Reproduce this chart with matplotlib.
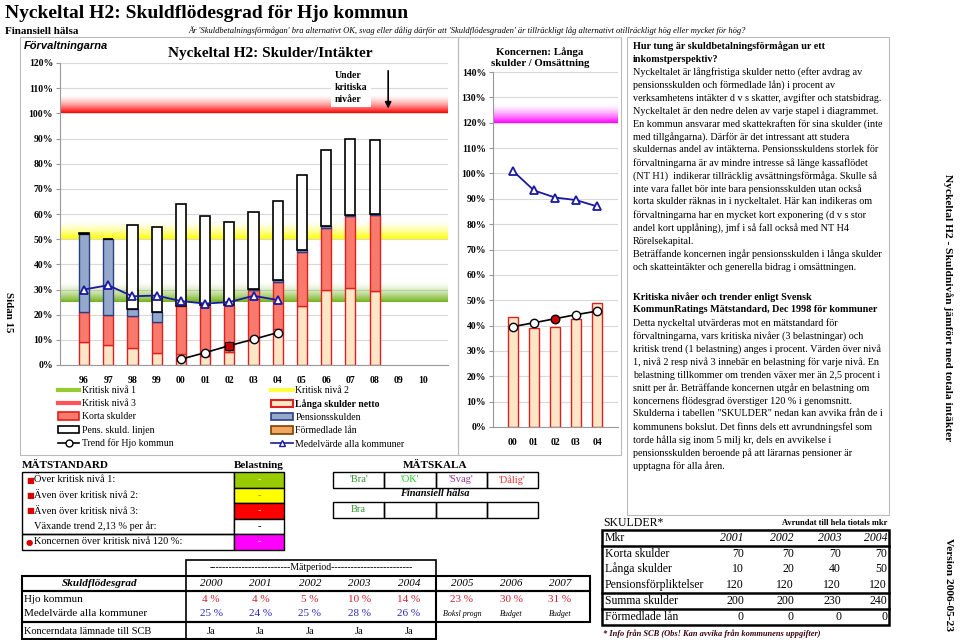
import numpy as np
import matplotlib.pyplot as plt
from matplotlib.patches import Rectangle, Patch
from matplotlib.lines import Line2D

plt.rcParams['font.family'] = ['Liberation Serif', 'DejaVu Serif']

W, H = 960, 640

# === DATA: main chart (Förvaltningarna) ===
years = ['96', '97', '98', '99', '00', '01', '02', '03', '04', '05', '06', '07', '08', '09', '10']
langa = [9.0, 8.0, 6.6, 4.6, 4.4, 3.6, 5.2, 10.0, 14.3, 23.4, 29.7, 30.7, 29.5, 0, 0]
korta = [12.1, 11.9, 13.0, 12.4, 19.0, 20.4, 18.6, 19.7, 18.7, 21.6, 24.9, 28.4, 30.0, 0, 0]
pension = [31.1, 30.0, 2.6, 4.1, 0, 0, 0, 0.6, 0.6, 0.6, 0.6, 0.6, 0.6, 0, 0]
formedlade = [0] * 15
pens_linje = [0.3, 0.3, 33.3, 33.6, 40.5, 35.2, 33.0, 30.6, 31.6, 29.8, 30.3, 30.0, 29.2, 0, 0]
medel_years = ['96', '97', '98', '99', '00', '01', '02', '03', '04']
medel = [30.0, 31.7, 27.3, 27.6, 25.4, 24.4, 25.0, 27.5, 25.8]
trend_years = ['00', '01', '02', '03', '04']
trend = [2.3, 4.9, 7.7, 10.2, 12.9]

# === DATA: koncernen ===
k_years = ['00', '01', '02', '03', '04']
k_langa = [43.2, 39.1, 39.5, 42.5, 49.0]
k_medel = [101.0, 93.3, 90.5, 89.5, 87.0]
k_trend = [39.6, 41.1, 42.7, 44.3, 45.7]

# === DATA: tables ===
std_labels = ['Över kritisk nivå 1:', 'Även över kritisk nivå 2:', 'Även över kritisk nivå 3:',
              'Växande trend 2,13 % per år:', 'Koncernen över kritisk nivå 120 %:']
std_marks = ['■', '■', '■', '', '●']
std_colors = ['#99cc00', '#ffff00', '#ff0000', '#ffffff', '#ff00ff']
skala = ["'Bra'", "'OK'", "'Svag'", "'Dålig'"]
skala_colors = ['#339933', '#22cc22', '#993399', '#ee3333']
halsa = ['Bra', '', '', '']

period_years = ['2000', '2001', '2002', '2003', '2004', '2005', '2006', '2007']
hjo_vals = ['4 %', '4 %', '5 %', '10 %', '14 %', '23 %', '30 %', '31 %']
medel_vals = ['25 %', '24 %', '25 %', '28 %', '26 %']
extra_notes = ['Boksl progn', 'Budget', 'Budget']
koncern_vals = ['Ja', 'Ja', 'Ja', 'Ja', 'Ja']

skuld_years = ['2001', '2002', '2003', '2004']
skuld_rows = ['Korta skulder', 'Långa skulder', 'Pensionsförpliktelser', 'Summa skulder', 'Förmedlade lån']
skuld_vals = [[70, 70, 70, 70], [10, 20, 40, 50], [120, 120, 120, 120], [200, 200, 230, 240], [0, 0, 0, 0]]

text1 = [
    "Nyckeltalet är långfristiga skulder netto (efter avdrag av",
    "pensionsskulden och förmedlade lån) i procent av",
    "verksamhetens intäkter d v s skatter, avgifter och statsbidrag.",
    "Nyckeltalet är den nedre delen av varje stapel i diagrammet.",
    "En kommun ansvarar med skattekraften för sina skulder (inte",
    "med tillgångarna). Därför är det intressant att studera",
    "skuldernas andel av intäkterna. Pensionsskuldens storlek för",
    "förvaltningarna är av mindre intresse så länge kassaflödet",
    "(NT H1)  indikerar tillräcklig avsättningsförmåga. Skulle så",
    "inte vara fallet bör inte bara pensionsskulden utan också",
    "korta skulder räknas in i nyckeltalet. Här kan indikeras om",
    "förvaltningarna har en mycket kort exponering (d v s stor",
    "andel kort upplåning), jmf i så fall också med NT H4",
    "Rörelsekapital.",
    "Beträffande koncernen ingår pensionsskulden i långa skulder",
    "och skatteintäkter och generella bidrag i omsättningen.",
]
text2 = [
    "Detta nyckeltal utvärderas mot en mätstandard för",
    "förvaltningarna, vars kritiska nivåer (3 belastningar) och",
    "kritisk trend (1 belastning) anges i procent. Värden över nivå",
    "1, nivå 2 resp nivå 3 innebär en belastning för varje nivå. En",
    "belastning tillkommer om trenden växer mer än 2,5 procent i",
    "snitt per år. Beträffande koncernen utgår en belastning om",
    "koncernens flödesgrad överstiger 120 % i genomsnitt.",
    "Skulderna i tabellen \"SKULDER\" nedan kan avvika från de i",
    "kommunens bokslut. Det finns dels ett avrundningsfel som",
    "torde hålla sig inom 5 milj kr, dels en avvikelse i",
    "pensionsskulden beroende på att lärarnas pensioner är",
    "upptagna för alla åren.",
]

# colours
PEACH = '#fde6c6'
SALMON = '#f77a6c'
BLUEGRAY = '#95a9cc'
ORANGE = '#f0a860'
REDEDGE = '#e02020'
NAVY = '#1a1aa0'

fig = plt.figure(figsize=(9.6, 6.4), dpi=100)


def fx(x):
    return x / W


def fy(y):
    return 1 - y / H


def txt(x, y, s, **kw):
    kw.setdefault('va', 'center')
    kw.setdefault('fontsize', 7.5)
    fig.text(fx(x), fy(y), s, **kw)


def rect(x0, y0, x1, y1, fc='none', ec='black', lw=1.0):
    fig.add_artist(Rectangle((fx(x0), fy(y1)), (x1 - x0) / W, (y1 - y0) / H,
                             transform=fig.transFigure, fc=fc, ec=ec, lw=lw))


def hline(x0, x1, y, lw=1.0, color='black'):
    fig.add_artist(Line2D([fx(x0), fx(x1)], [fy(y), fy(y)], lw=lw, color=color))


def vline(x, y0, y1, lw=1.0, color='black'):
    fig.add_artist(Line2D([fx(x), fx(x)], [fy(y0), fy(y1)], lw=lw, color=color))


def band(ax, y0, y1, rgb, x0, x1, power=1.6):
    n = 60
    grad = np.zeros((n, 1, 4))
    grad[:, 0, :3] = rgb
    grad[:, 0, 3] = (1 - np.linspace(0, 1, n)) ** power
    ax.imshow(grad, extent=[x0, x1, y0, y1], origin='lower', aspect='auto',
              zorder=0.8, interpolation='bilinear')


# panel borders
rect(20, 37, 458, 455, ec='#bbbbbb', lw=0.8)
rect(458, 37, 621, 455, ec='#bbbbbb', lw=0.8)
rect(627, 37, 889, 515, ec='#bbbbbb', lw=0.8)

# === MAIN CHART ===
ax = fig.add_axes([fx(60), fy(365), 388 / W, 302 / H])
x = np.arange(len(years))
bw = 0.42
xl = (-0.99, 15.03)
band(ax, 100, 107.5, (1.0, 0.0, 0.0), *xl)
band(ax, 50, 57.5, (1.0, 1.0, 0.0), *xl)
band(ax, 25, 33, (0.45, 0.7, 0.1), *xl)

bottom = np.zeros(len(years))
for vals, fc, ec, lw in [(langa, PEACH, REDEDGE, 1.0), (korta, SALMON, REDEDGE, 1.0),
                         (pension, BLUEGRAY, '#2a3f80', 1.0), (formedlade, ORANGE, '#804000', 1.0),
                         (pens_linje, 'white', 'black', 1.2)]:
    v = np.array(vals, dtype=float)
    m = v > 0
    ax.bar(x[m], v[m], bw, bottom=bottom[m], color=fc, edgecolor=ec, lw=lw, zorder=2)
    bottom += v

mx = [years.index(y) for y in medel_years]
ax.plot(mx, medel, color=NAVY, lw=1.3, marker='^', ms=6, mfc='white', mec=NAVY, mew=1.3, zorder=4)
tx = [years.index(y) for y in trend_years]
ax.plot(tx, trend, color='black', lw=1.2, marker='o', ms=6, mfc='white', mec='black', mew=1.0, zorder=4)
ax.plot(tx[2], trend[2], marker='s', ms=6, mfc='#cc0000', mec='black', mew=0.8, zorder=5)

ax.set_xlim(*xl)
ax.set_ylim(0, 120)
ax.set_yticks(np.arange(0, 121, 10))
ax.set_yticklabels([f'{v}%' for v in range(0, 121, 10)], fontweight='bold', fontsize=7)
ax.set_xticks(x)
ax.set_xticklabels(years, fontweight='bold', fontsize=7)
ax.tick_params(axis='x', length=0, pad=8)
ax.tick_params(axis='y', length=3, color='#999999', pad=2)
ax.grid(axis='y', color='#d9d9d9', lw=0.8, zorder=0.5)
ax.set_axisbelow(True)
for s in ['top', 'right']:
    ax.spines[s].set_visible(False)
for s in ['left', 'bottom']:
    ax.spines[s].set_color('#999999')

ax.text(10.35, 117, 'Under\nkritiska\nnivåer', va='top', ha='left', fontsize=7, fontweight='bold',
        linespacing=1.45, zorder=6, bbox=dict(fc='white', ec='none', pad=2.5))
ax.annotate('', xy=(12.56, 100.8), xytext=(12.56, 118),
            arrowprops=dict(arrowstyle='-|>', color='black', lw=1.2, mutation_scale=9), zorder=6)

txt(270, 53, 'Nyckeltal H2: Skulder/Intäkter', ha='center', fontsize=11, fontweight='bold')
txt(24, 46, 'Förvaltningarna', fontsize=8, fontweight='bold', style='italic',
    family=['Liberation Sans', 'DejaVu Sans'])

# legend
handles = [
    Line2D([], [], color='#99cc33', lw=3), Line2D([], [], color='#ff5555', lw=3),
    Patch(fc=SALMON, ec=REDEDGE, lw=1.2), Patch(fc='white', ec='black', lw=1.2),
    Line2D([], [], color='black', lw=1.2, marker='o', ms=5, mfc='white', mec='black'),
    Line2D([], [], color='#ffff44', lw=3), Patch(fc=PEACH, ec=REDEDGE, lw=1.5),
    Patch(fc=BLUEGRAY, ec='#2a3f80', lw=1.2), Patch(fc=ORANGE, ec='#804000', lw=1.2),
    Line2D([], [], color=NAVY, lw=1.2, marker='^', ms=5, mfc='white', mec=NAVY),
]
labels = ['Kritisk nivå 1', 'Kritisk nivå 3', 'Korta skulder', 'Pens. skuld. linjen', 'Trend för Hjo kommun',
          'Kritisk nivå 2', 'Långa skulder netto', 'Pensionsskulden', 'Förmedlade lån', 'Medelvärde alla kommuner']
leg = fig.legend(handles, labels, ncol=2, loc='upper left', bbox_to_anchor=(fx(58), fy(386)),
                 frameon=False, fontsize=7, handlelength=2.2, handleheight=0.8, handletextpad=0.3,
                 labelspacing=0.42, columnspacing=10.0, borderpad=0, borderaxespad=0)
leg.get_texts()[6].set_fontweight('bold')

# === KONCERNEN ===
ak = fig.add_axes([fx(493), fy(427), 125 / W, 355 / H])
kx = np.arange(len(k_years))
kxl = (-0.95, 5.0)
band(ak, 120, 127.5, (1.0, 0.0, 1.0), *kxl)
ak.bar(kx, k_langa, 0.44, color=PEACH, edgecolor=REDEDGE, lw=1.0, zorder=2)
ak.plot(kx, k_medel, color=NAVY, lw=1.3, marker='^', ms=6, mfc='white', mec=NAVY, mew=1.3, zorder=4)
ak.plot(kx, k_trend, color='black', lw=1.2, marker='o', ms=6, mfc='white', mec='black', mew=1.0, zorder=4)
ak.plot(kx[2], k_trend[2], marker='o', ms=6, mfc='#cc0000', mec='black', mew=0.8, zorder=5)
ak.set_xlim(*kxl)
ak.set_ylim(0, 140)
ak.set_yticks(np.arange(0, 141, 10))
ak.set_yticklabels([f'{v}%' for v in range(0, 141, 10)], fontweight='bold', fontsize=7)
ak.set_xticks(kx)
ak.set_xticklabels(k_years, fontweight='bold', fontsize=7)
ak.tick_params(axis='x', length=0, pad=8)
ak.tick_params(axis='y', length=3, color='#999999', pad=2)
ak.grid(axis='y', color='#d9d9d9', lw=0.8, zorder=0.5)
ak.set_axisbelow(True)
for s in ['top', 'right']:
    ak.spines[s].set_visible(False)
for s in ['left', 'bottom']:
    ak.spines[s].set_color('#999999')
txt(540, 52, 'Koncernen: Långa', ha='center', fontsize=7.8, fontweight='bold')
txt(540, 64, 'skulder / Omsättning', ha='center', fontsize=7.8, fontweight='bold')

# === HEADER ===
txt(5, 13, 'Nyckeltal H2: Skuldflödesgrad för Hjo kommun', fontsize=14, fontweight='bold')
txt(5, 31, 'Finansiell hälsa', fontsize=8, fontweight='bold')
txt(188, 31, "Är 'Skuldbetalningsförmågan' bra alternativt OK, svag eller dålig därför att "
             "'Skuldflödesgraden' är tillräckligt låg alternativt otillräckligt hög eller mycket för hög?",
    fontsize=6.1, style='italic')

# side texts
txt(948, 308, 'Nyckeltal H2 - Skuldnivån jämfört med totala intäkter', rotation=270, ha='center',
    fontsize=8.2, fontweight='bold')
txt(948, 584, 'Version 2006-05-23', rotation=270, ha='center', fontsize=8.2, fontweight='bold')
txt(8, 312, 'Sidan 15', rotation=270, ha='center', fontsize=7.8, fontweight='bold')

# === RIGHT TEXT PANEL ===
txt(633, 46, 'Hur tung är skuldbetalningsförmågan ur ett', fontsize=7.3, fontweight='bold')
txt(633, 59, 'inkomstperspektiv?', fontsize=7.3, fontweight='bold')
for i, line in enumerate(text1):
    txt(633, 72 + 13 * i, line, fontsize=7.3)
txt(633, 297, 'Kritiska nivåer och trender enligt Svensk', fontsize=7.3, fontweight='bold')
txt(633, 310, 'KommunRatings Mätstandard, Dec 1998 för kommuner', fontsize=7.3, fontweight='bold')
for i, line in enumerate(text2):
    txt(633, 323 + 13 * i, line, fontsize=7.3)

# === MÄTSTANDARD ===
txt(22, 465, 'MÄTSTANDARD', fontsize=8, fontweight='bold')
txt(259, 465, 'Belastning', ha='center', fontsize=8, fontweight='bold')
row_edges = [472, 488, 503, 519, 534, 550]
rect(22, 472, 234, 534, lw=1.0)
rect(22, 534, 234, 550, lw=1.0)
for i, lab in enumerate(std_labels):
    y0, y1 = row_edges[i], row_edges[i + 1]
    yc = (y0 + y1) / 2
    rect(234, y0, 284, y1, fc=std_colors[i], lw=1.0)
    if std_marks[i]:
        txt(26, yc, std_marks[i], color='#dd0000', fontsize=6, family=['DejaVu Sans'])
    txt(34, yc, lab, fontsize=7.5)
    dash_c = 'black' if std_colors[i] == '#ffffff' else ('#b08000' if std_colors[i] == '#ffff00' else '#f0f0c0')
    txt(259, yc, '-', ha='center', fontsize=7.5, color=dash_c)

# === MÄTSKALA ===
txt(435, 465, 'MÄTSKALA', ha='center', fontsize=8, fontweight='bold')
cw = (538 - 333) / 4
for i in range(4):
    rect(333 + i * cw, 472, 333 + (i + 1) * cw, 488, lw=1.0)
    txt(333 + (i + 0.5) * cw, 480, skala[i], ha='center', fontsize=7.5, color=skala_colors[i])
    rect(333 + i * cw, 502, 333 + (i + 1) * cw, 518, lw=1.0)
    txt(333 + (i + 0.5) * cw, 510, halsa[i], ha='center', fontsize=7.5, color='#339933')
txt(435, 494, 'Finansiell hälsa', ha='center', fontsize=7.5, fontweight='bold', style='italic')

# === SKULDFLÖDESGRAD TABLE ===
rect(186, 560, 436, 576, lw=1.2)
txt(311, 568, '-------------------------Mätperiod-------------------------', ha='center', fontsize=7)
rect(22, 576, 590, 591, lw=1.5)
rect(22, 591, 590, 622, lw=1.5)
rect(22, 622, 436, 639, lw=1.5)
vline(186, 576, 639, lw=1.2)
vline(436, 576, 622, lw=1.5)
col_x = [211 + 49.5 * i for i in range(5)] + [462, 511, 560]
txt(100, 583, 'Skuldflödesgrad', ha='center', fontsize=8, fontweight='bold', style='italic')
for i, yr in enumerate(period_years):
    txt(col_x[i], 583, yr, ha='center', fontsize=8, style='italic')
    txt(col_x[i], 599, hjo_vals[i], ha='center', fontsize=8, color='#cc2233')
for i, v in enumerate(medel_vals):
    txt(col_x[i], 614, v, ha='center', fontsize=8, color='#2a2ab8')
for i, v in enumerate(extra_notes):
    txt(col_x[5 + i], 614, v, ha='center', fontsize=5.8, style='italic')
for i, v in enumerate(koncern_vals):
    txt(col_x[i], 631, v, ha='center', fontsize=7.5)
txt(24, 599, 'Hjo kommun', fontsize=8)
txt(24, 614, 'Medelvärde alla kommuner', fontsize=8)
txt(24, 631, 'Koncerndata lämnade till SCB', fontsize=7.5)

# === SKULDER TABLE ===
txt(603, 523, 'SKULDER*', fontsize=8.5)
txt(887, 523, 'Avrundat till hela tiotals mkr', ha='right', fontsize=6, fontweight='bold')
rect(602, 530, 889, 625, lw=1.8)
hline(602, 889, 546, lw=1.8)
hline(602, 889, 593, lw=1.8)
hline(602, 889, 609, lw=1.8)
val_x = [744, 794, 841, 887]
txt(605, 538, 'Mkr', fontsize=8.5)
for j, yr in enumerate(skuld_years):
    txt(val_x[j], 538, yr, ha='right', fontsize=8.5, style='italic')
row_y = [554, 569, 585, 601, 617]
for i, lab in enumerate(skuld_rows):
    txt(605, row_y[i], lab, fontsize=8.5)
    for j, v in enumerate(skuld_vals[i]):
        txt(val_x[j], row_y[i], str(v), ha='right', fontsize=8.5)
txt(603, 634, '* Info från SCB (Obs! Kan avvika från kommunens uppgifter)', fontsize=6,
    fontweight='bold', style='italic', color='#3a0010')

fig.savefig('out.png', dpi=100)
